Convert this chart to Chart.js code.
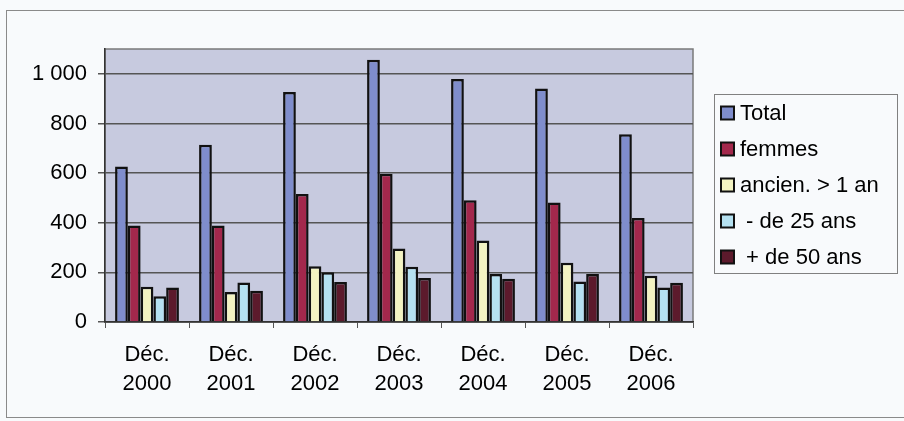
<!DOCTYPE html>
<html>
<head>
<meta charset="utf-8">
<script src="https://cdn.jsdelivr.net/npm/chart.js@4/dist/chart.umd.min.js"></script>
<style>
  html, body { margin: 0; padding: 0; background: #f8fafc; }
  #wrap { width: 904px; height: 421px; position: relative; }
</style>
</head>
<body>
<div id="wrap"><canvas id="chomage"></canvas></div>
<script>
// donnees
const periodes = [['Déc.', '2000'], ['Déc.', '2001'], ['Déc.', '2002'], ['Déc.', '2003'], ['Déc.', '2004'], ['Déc.', '2005'], ['Déc.', '2006']];
const total      = [627, 714, 927, 1057, 979, 941, 757];
const femmes     = [389, 389, 516, 597, 491, 482, 419];
const ancienUnAn = [142, 121, 225, 296, 328, 239, 186];
const moins25    = [104, 159, 200, 223, 193, 163, 139];
const plus50     = [139, 126, 161, 177, 174, 193, 158];

const serieLabels = ['Total', 'femmes', 'ancien. > 1 an', ' - de 25 ans', ' + de 50 ans'];
const serieColors = ['#7f8dcc', '#a3284c', '#f3f3c2', '#b5e1f1', '#5c1a2c'];
const yTicks = [0, 200, 400, 600, 800, 1000];

const FONT = 'Liberation Sans, Arial, sans-serif';

// fond gris du graphique + cadre exterieur + legende dessinee a la main
const cadrePlugin = {
  id: 'cadre',
  beforeDraw(chart) {
    const { ctx, chartArea: a } = chart;
    ctx.save();
    ctx.strokeStyle = '#8a8a8a';
    ctx.lineWidth = 1;
    ctx.strokeRect(6.5, 10.5, 920, 407);
    ctx.fillStyle = '#c7cadf';
    ctx.fillRect(a.left, a.top, a.right - a.left, a.bottom - a.top);
    ctx.strokeStyle = '#7a7a7a';
    ctx.lineWidth = 1.5;
    ctx.strokeRect(a.left, a.top, a.right - a.left, a.bottom - a.top);
    ctx.restore();
  },
  afterDraw(chart) {
    const { ctx } = chart;
    ctx.save();
    ctx.strokeStyle = '#808080';
    ctx.lineWidth = 1;
    ctx.strokeRect(714.5, 94.5, 183, 179);
    ctx.font = '22px ' + FONT;
    ctx.textBaseline = 'middle';
    ctx.fillStyle = '#000';
    const ys = [113, 149, 185, 221, 257];
    chart.data.datasets.forEach((ds, i) => {
      ctx.fillStyle = ds.backgroundColor;
      ctx.fillRect(721, ys[i] - 6.5, 13, 13);
      ctx.strokeStyle = '#111';
      ctx.lineWidth = 2;
      ctx.strokeRect(721, ys[i] - 6.5, 13, 13);
      ctx.fillStyle = '#000';
      ctx.fillText(ds.label, 740, ys[i] + 1);
    });
    ctx.restore();
  }
};

const makeSet = (label, data, color) => ({
  label: label,
  data: data,
  backgroundColor: color,
  borderColor: '#111',
  borderWidth: 2.5,
  borderSkipped: 'bottom',
  categoryPercentage: 0.76,
  barPercentage: 1.0
});

new Chart(document.getElementById('chomage'), {
  type: 'bar',
  data: {
    labels: periodes,
    datasets: [
      makeSet(serieLabels[0], total, serieColors[0]),
      makeSet(serieLabels[1], femmes, serieColors[1]),
      makeSet(serieLabels[2], ancienUnAn, serieColors[2]),
      makeSet(serieLabels[3], moins25, serieColors[3]),
      makeSet(serieLabels[4], plus50, serieColors[4])
    ]
  },
  options: {
    responsive: true,
    maintainAspectRatio: false,
    animation: false,
    layout: { padding: { left: 0, right: 211, top: 49, bottom: 0 } },
    plugins: {
      legend: { display: false },
      tooltip: { enabled: false }
    },
    scales: {
      x: {
        grid: { display: true, drawOnChartArea: false, offset: true, color: '#555', tickLength: 6, lineWidth: 1 },
        border: { display: true, color: '#333', width: 1.5 },
        ticks: { color: '#000', font: { family: FONT, size: 22, lineHeight: 1.32 }, padding: 12, maxRotation: 0 },
        afterFit(scale) { scale.height = 99; }
      },
      y: {
        min: 0,
        max: 1100,
        grid: { color: '#555', lineWidth: 1.5, tickLength: 7 },
        border: { display: true, color: '#333', width: 1.5 },
        afterBuildTicks(scale) { scale.ticks = yTicks.map(v => ({ value: v })); },
        ticks: {
          color: '#000',
          padding: 11,
          font: { family: FONT, size: 22 },
          callback: v => String(v).replace(/\B(?=(\d{3})+(?!\d))/g, ' ')
        },
        afterFit(scale) { scale.width = 105; }
      }
    }
  },
  plugins: [cadrePlugin]
});
</script>
</body>
</html>
